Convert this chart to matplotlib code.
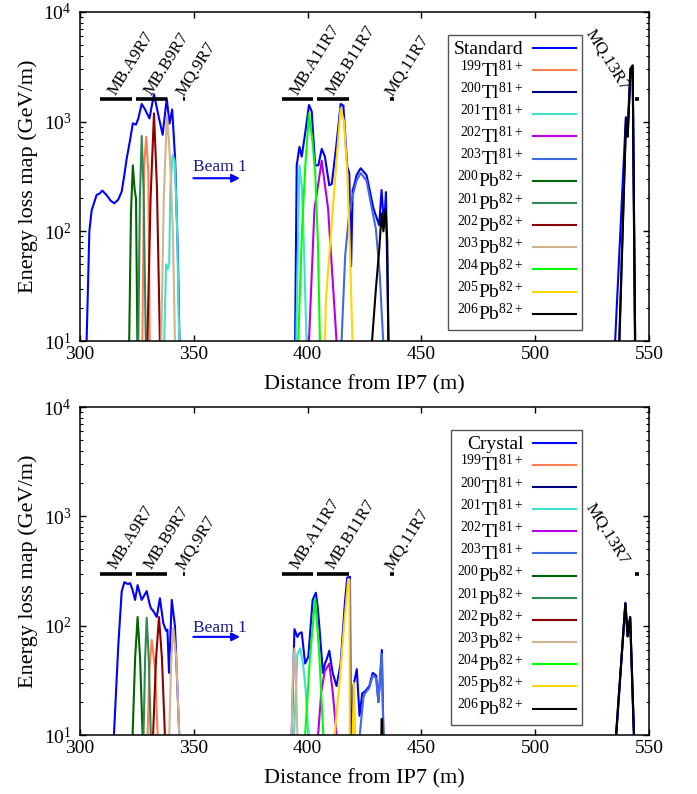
import numpy as np
import matplotlib
matplotlib.use("Agg")
import matplotlib.pyplot as plt
from matplotlib.ticker import LogLocator, LogFormatterSciNotation, NullFormatter

plt.rcParams['font.family'] = ['Liberation Serif', 'DejaVu Serif']
plt.rcParams['mathtext.fontset'] = 'custom'
plt.rcParams['mathtext.rm'] = 'Liberation Serif'
plt.rcParams['mathtext.it'] = 'Liberation Serif:italic'
plt.rcParams['mathtext.bf'] = 'Liberation Serif:bold'

N = np.nan

series_names = ["199Tl", "200Tl", "201Tl", "202Tl", "203Tl",
                "200Pb", "201Pb", "202Pb", "203Pb", "204Pb", "205Pb", "206Pb"]
series_labels = [r"$^{199}$Tl$^{81+}$", r"$^{200}$Tl$^{81+}$", r"$^{201}$Tl$^{81+}$",
                 r"$^{202}$Tl$^{81+}$", r"$^{203}$Tl$^{81+}$",
                 r"$^{200}$Pb$^{82+}$", r"$^{201}$Pb$^{82+}$", r"$^{202}$Pb$^{82+}$",
                 r"$^{203}$Pb$^{82+}$", r"$^{204}$Pb$^{82+}$", r"$^{205}$Pb$^{82+}$",
                 r"$^{206}$Pb$^{82+}$"]
series_colors = ["#ff7f50", "#000080", "#40e0d0", "#b400e6", "#4169e1",
                 "#006400", "#2e8b57", "#8b0000", "#d2b48c", "#00ff00", "#ffd700", "#000000"]

# ---------------- Standard (top panel) ----------------
std_total_x = [302.9, 304.1, 305.1, 307.3, 308.5, 309.8, 311.6, 313.5, 315.1, 316.8, 318.3, 319.5,
               320.5, 322.0, 323.2, 324.6, 325.6, 327.1, 328.6, 330.5, 332.5, 334.4, 336.3, 338.1,
               339.3, 340.5, 341.8, 343.0, 343.7, N,
               394.5, 395.2, 396.4, 397.4, 398.9, 400.6, 401.8, 403.3, 404.7, 406.2, 407.6, 409.5,
               410.6, 412.7, 414.5, 415.7, 417.4, 418.3, 419.1, 419.8, 420.4, 421.5, 423.3, 425.9,
               428.9, 431.4, 432.5, 433.6, 434.4, 435.5, N,
               535.1, 539.8, 540.5, 541.8, 542.8, 543.9]
std_total_y = [10, 100, 155, 215, 220, 235, 215, 190, 180, 195, 230, 330,
               460, 680, 965, 940, 1070, 1450, 1290, 1070, 1780, 1150, 760, 1630,
               960, 1290, 450, 60, 10, N,
               10, 400, 590, 480, 780, 1420, 1240, 400, 400, 565, 480, 263,
               270, 630, 1450, 1400, 390, 340, 48, 238, 260, 325, 376, 325,
               162, 114, 238, 110, 228, 10, N,
               10, 1100, 760, 3000, 3250, 10]

std_x = {
    "199Tl": [327.4, 328.2, 329.1, 330.0, 330.6],
    "200Tl": [537.0, 539.9, 540.6, 541.9, 542.8, 543.8],
    "201Tl": [337.0, 337.8, 338.5, 339.2, 339.7, 340.7, 341.6, 342.6, 343.6, N,
              395.0, 396.4, 397.5, 398.5, 399.5],
    "202Tl": [400.6, 403.0, 406.2, 409.0, 412.7],
    "203Tl": [414.9, 416.5, 418.3, 420.0, 421.5, 423.3, 425.9, 428.0, 430.0, 431.7, 433.2],
    "200Pb": [321.6, 322.4, 323.2, 324.0, 324.6, 325.2],
    "201Pb": [325.6, 326.3, 327.1, 327.9, 328.9],
    "202Pb": [329.6, 331.0, 332.5, 333.8, 335.1],
    "203Pb": [335.7, 336.8, 338.2, 339.2, 339.8, 340.8, 341.7],
    "204Pb": [395.9, 397.5, 399.0, 400.6, 402.0, 403.3, 404.5, 405.4],
    "205Pb": [407.6, 408.0, 409.5, 411.0, 412.7, 414.5, 416.0, 417.4, 418.5, 419.7],
    "206Pb": [428.3, 430.0, 431.5, 432.5, 433.3, 434.3, 435.0, 435.5, N,
              536.9, 539.9, 540.6, 541.9, 542.8, 543.9],
}
std_y = {
    "199Tl": [10, 400, 730, 350, 10],
    "200Tl": [10, 1050, 730, 3000, 3200, 10],
    "201Tl": [10, 50, 45, 52, 250, 500, 440, 120, 10, N,
              10, 400, 250, 60, 10],
    "202Tl": [10, 160, 440, 160, 10],
    "203Tl": [10, 60, 150, 220, 290, 340, 290, 170, 105, 40, 10],
    "200Pb": [10, 150, 400, 240, 200, 10],
    "201Pb": [10, 200, 740, 250, 10],
    "202Pb": [10, 200, 1190, 250, 10],
    "203Pb": [10, 200, 1150, 600, 340, 100, 10],
    "204Pb": [10, 100, 400, 1190, 700, 350, 80, 10],
    "205Pb": [10, 23, 60, 150, 450, 1320, 1000, 350, 80, 10],
    "206Pb": [10, 30, 70, 146, 100, 160, 80, 10, N,
              10, 1070, 730, 3060, 3250, 10],
}

# ---------------- Crystal (bottom panel) ----------------
cry_total_x = [314.9, 316.8, 318.3, 319.5, 321.0, 322.0, 323.0, 324.2, 325.3, 326.2, 327.1, 329.3,
               330.5, 331.1, 332.3, 333.7, 335.1, 336.6, 337.8, 338.4, 339.1, 340.3, 341.7, 342.7,
               343.6, N,
               393.0, 394.2, 395.5, 396.4, 397.4, 398.9, 400.3, 402.2, 403.6, 404.4, 405.2, 406.7,
               407.6, 408.5, 409.5, 411.0, 412.7, 414.5, 416.4, 417.4, 418.6, 419.0, 419.6, 420.1,
               421.6, 422.8, 424.0, 425.2, 427.1, 428.6, 430.1, 431.1, 432.6, 433.3, N,
               535.5, 539.6, 540.6, 541.7, 543.4]
cry_total_y = [10, 65, 205, 250, 240, 245, 215, 172, 235, 200, 172, 207,
               160, 145, 135, 120, 178, 105, 90, 92, 37, 172, 100, 30,
               10, N,
               10, 93, 79, 85, 87, 45, 52, 172, 200, 150, 95, 37,
               45, 50, 59, 37, 28, 45, 165, 275, 280, 10, 10, 28,
               40, 15, 24, 25, 28, 37, 35, 20, 60, 10, N,
               10, 162, 80, 120, 10]

cry_x = {
    "199Tl": [329.7, 330.5, 331.5, 333.0, 334.1],
    "200Tl": [535.6, 539.6, 540.6, 541.7, 543.3],
    "201Tl": [394.0, 395.5, 396.7, 398.0, 399.2, 400.3],
    "202Tl": [404.6, 406.0, 407.5, 409.5, 411.0, 412.7],
    "203Tl": [422.9, 424.5, 425.2, 427.1, 428.6, 430.1, 431.1, 432.6, 433.3],
    "200Pb": [323.1, 324.2, 325.3, 326.4, 327.5],
    "201Pb": [327.9, 328.6, 329.3, 330.2, 331.1],
    "202Pb": [332.1, 333.4, 334.7, 336.0, 337.3],
    "203Pb": [339.2, 340.1, 341.0, 342.3, 343.6, N,
              393.0, 393.6, 394.2, 394.8, 395.5],
    "204Pb": [398.9, 401.0, 403.3, 405.0, 406.9],
    "205Pb": [411.9, 414.0, 416.0, 417.8, 418.4, 418.5, N,
              419.8, 420.3, 420.9],
    "206Pb": [432.4, 432.5, 432.7, 432.8, N,
              535.5, 539.6, 540.6, 541.7, 543.4],
}
cry_y = {
    "199Tl": [10, 40, 74, 40, 10],
    "200Tl": [10, 158, 80, 118, 10],
    "201Tl": [10, 55, 62, 45, 25, 10],
    "202Tl": [10, 25, 38, 45, 25, 10],
    "203Tl": [10, 22, 24, 27, 35, 33, 20, 55, 10],
    "200Pb": [10, 50, 120, 50, 10],
    "201Pb": [10, 50, 118, 50, 10],
    "202Pb": [10, 50, 120, 50, 10],
    "203Pb": [10, 50, 95, 50, 10, N,
              10, 40, 62, 40, 10],
    "204Pb": [10, 50, 178, 60, 10],
    "205Pb": [10, 30, 100, 265, 265, 10, N,
              10, 30, 10],
    "206Pb": [10, 14, 14, 10, N,
              10, 160, 80, 120, 10],
}

# Magnet markers
magnet_names = ["MB.A9R7", "MB.B9R7", "MQ.9R7", "MB.A11R7", "MB.B11R7", "MQ.11R7", "MQ.13R7"]
magnet_start = [308.8, 324.6, 345.1, 388.6, 404.3, 436.2, 543.9]
magnet_end = [322.7, 338.1, 346.1, 402.2, 418.2, 438.1, 545.7]

panels = [
    ("Standard", std_total_x, std_total_y, std_x, std_y, 1600, 357, 305),
    ("Crystal", cry_total_x, cry_total_y, cry_x, cry_y, 300, 88, 79),
]

fig = plt.figure(figsize=(6.97, 7.94), dpi=100)
ax_rects = [[0.1148, 0.5705, 0.8164, 0.4144], [0.1148, 0.0743, 0.8164, 0.4131]]

for rect, (tname, tx, ty, sx, sy, bar_y, beam_ty, beam_ay) in zip(ax_rects, panels):
    ax = fig.add_axes(rect)
    ax.plot(tx, ty, color="#0000ff", lw=1.5, label=tname)
    for name, lab, col in zip(series_names, series_labels, series_colors):
        ax.plot(sx[name], sy[name], color=col, lw=1.5, label=lab)
    ax.set_yscale("log")
    ax.set_xlim(300, 550)
    ax.set_ylim(10, 1e4)
    ax.set_xticks([300, 350, 400, 450, 500, 550])
    ax.yaxis.set_major_locator(LogLocator(base=10, numticks=10))
    ax.yaxis.set_minor_locator(LogLocator(base=10, subs=np.arange(2, 10), numticks=10))
    ax.yaxis.set_major_formatter(LogFormatterSciNotation())
    ax.yaxis.set_minor_formatter(NullFormatter())
    ax.tick_params(axis="both", which="both", direction="in", top=True, right=True,
                   labelsize=14)
    ax.tick_params(axis="y", which="major", pad=6)
    ax.tick_params(which="major", length=4.5, width=1)
    ax.tick_params(which="minor", length=2.5, width=0.8)
    for sp in ax.spines.values():
        sp.set_linewidth(1.1)
    ax.set_xlabel("Distance from IP7 (m)", fontsize=16, labelpad=9)
    ax.set_ylabel("Energy loss map (GeV/m)", fontsize=16, labelpad=4)

    # magnets
    for mname, m0, m1 in zip(magnet_names, magnet_start, magnet_end):
        ax.plot([m0, m1], [bar_y, bar_y], color="black", lw=2.6, solid_capstyle="butt")
        mc = 0.5 * (m0 + m1)
        if mname == "MQ.13R7":
            ax.text(mc - 8.0, bar_y * 1.13, mname, rotation=-58, rotation_mode="anchor",
                    ha="right", va="bottom", fontsize=12.3)
        else:
            ax.text(mc + 1.5, bar_y * 1.02, mname, rotation=58, rotation_mode="anchor",
                    ha="left", va="bottom", fontsize=12.3)

    # beam arrow
    ax.annotate("", xy=(370.3, beam_ay), xytext=(349.8, beam_ay),
                arrowprops=dict(arrowstyle="-|>", color="#0000ff", lw=1.5,
                                mutation_scale=12, shrinkA=0, shrinkB=0))
    ax.text(349.8, beam_ty, "Beam 1", color="#1a1a8c", fontsize=12.5,
            ha="left", va="baseline")

    leg = ax.legend(loc="upper right", bbox_to_anchor=(0.882, 0.93), borderaxespad=0,
                    fontsize=14, markerfirst=False, handlelength=2.2, handletextpad=0.5,
                    labelspacing=0.05, fancybox=False, framealpha=1, borderpad=0.3)
    leg.get_frame().set_edgecolor("#555555")
    leg.get_frame().set_linewidth(1.0)
    for t in leg.get_texts():
        t.set_ha("right")

fig.savefig("out.png", dpi=100)
